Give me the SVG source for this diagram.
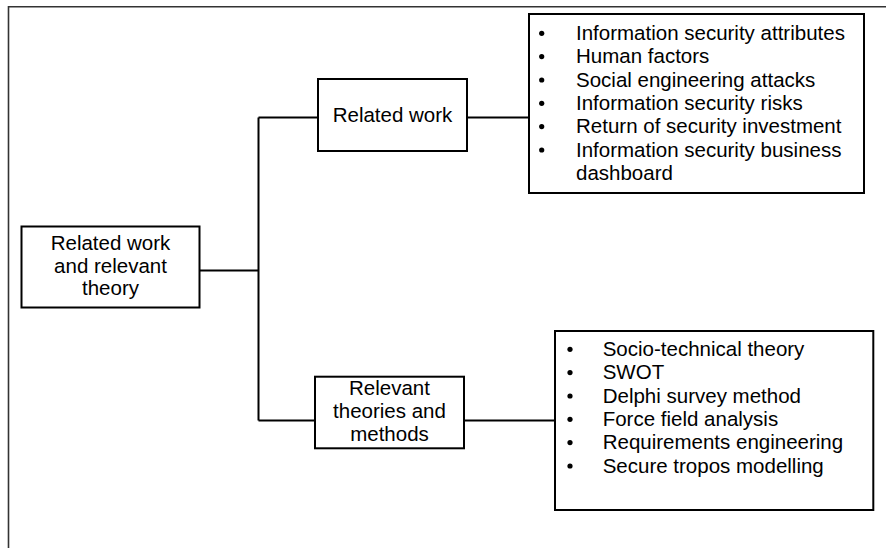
<svg xmlns="http://www.w3.org/2000/svg" width="886" height="548" viewBox="0 0 886 548">
<style>
.box{fill:#fff;stroke:#000;stroke-width:2}
.ln{stroke:#000;stroke-width:2;fill:none}
.fr{stroke:#333;stroke-width:1.6;fill:none}
text{font-family:"Liberation Sans",Arial,sans-serif;font-size:20.5px;fill:#000}
.c{text-anchor:middle}
.b{fill:#000}
</style>
<rect width="886" height="548" fill="#fff"/>
<g id="frame"><path class="fr" d="M8.5,548 V6.8 H886"/></g>
<g id="connectors">
<path class="ln" d="M199,270.5 H258.5"/>
<path class="ln" d="M258.5,117.5 V420.5"/>
<path class="ln" d="M258.5,117.5 H318"/>
<path class="ln" d="M258.5,420.5 H315"/>
<path class="ln" d="M467,117.5 H529"/>
<path class="ln" d="M464,420.5 H555"/>
</g>
<g id="root">
<rect class="box" x="21.5" y="226.5" width="178" height="81"/>
<text class="c" x="110.5" y="250">Related work</text>
<text class="c" x="110.5" y="272.7">and relevant</text>
<text class="c" x="110.5" y="295">theory</text>
</g>
<g id="related-work">
<rect class="box" x="318" y="79" width="149" height="72"/>
<text class="c" x="392.5" y="121.7">Related work</text>
</g>
<g id="relevant-theories">
<rect class="box" x="315" y="376.7" width="149" height="71.6"/>
<text class="c" x="389.5" y="395">Relevant</text>
<text class="c" x="389.5" y="417.5">theories and</text>
<text class="c" x="389.5" y="440.5">methods</text>
</g>
<g id="related-work-list">
<rect class="box" x="529" y="14" width="335" height="179"/>
<circle class="b" cx="541.7" cy="33.3" r="2.6"/>
<circle class="b" cx="541.7" cy="56.6" r="2.6"/>
<circle class="b" cx="541.7" cy="80" r="2.6"/>
<circle class="b" cx="541.7" cy="103.3" r="2.6"/>
<circle class="b" cx="541.7" cy="126.6" r="2.6"/>
<circle class="b" cx="541.7" cy="150" r="2.6"/>
<text x="576" y="40">Information security attributes</text>
<text x="576" y="63.3">Human factors</text>
<text x="576" y="86.7">Social engineering attacks</text>
<text x="576" y="110">Information security risks</text>
<text x="576" y="133.3">Return of security investment</text>
<text x="576" y="156.7">Information security business</text>
<text x="576" y="180">dashboard</text>
</g>
<g id="theories-list">
<rect class="box" x="555" y="331" width="318.3" height="179"/>
<circle class="b" cx="570" cy="349.3" r="2.6"/>
<circle class="b" cx="570" cy="372.6" r="2.6"/>
<circle class="b" cx="570" cy="396" r="2.6"/>
<circle class="b" cx="570" cy="419.3" r="2.6"/>
<circle class="b" cx="570" cy="442.6" r="2.6"/>
<circle class="b" cx="570" cy="466" r="2.6"/>
<text x="602.7" y="356">Socio-technical theory</text>
<text x="602.7" y="379.3">SWOT</text>
<text x="602.7" y="402.7">Delphi survey method</text>
<text x="602.7" y="426">Force field analysis</text>
<text x="602.7" y="449.3">Requirements engineering</text>
<text x="602.7" y="472.7">Secure tropos modelling</text>
</g>
</svg>
